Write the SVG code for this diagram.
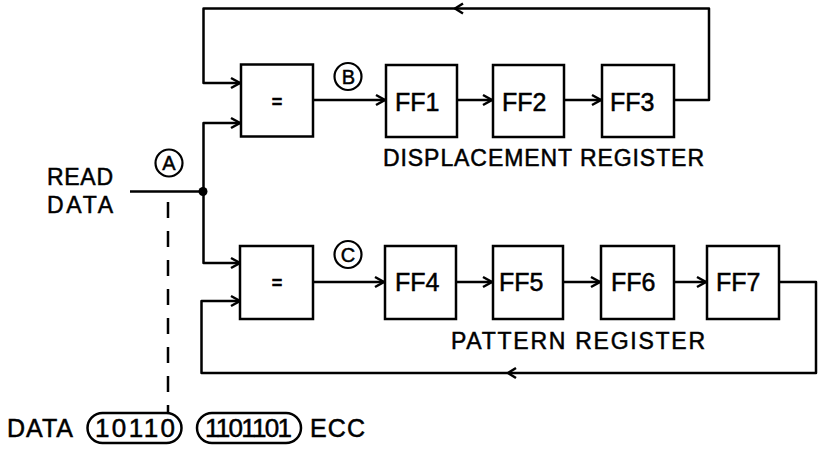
<svg xmlns="http://www.w3.org/2000/svg" width="822" height="450" viewBox="0 0 822 450">
<style>
.box{fill:#fff;stroke:#000;stroke-width:2.5}
.ln{fill:none;stroke:#000;stroke-width:2.5;stroke-linejoin:round}
.t{font-family:"Liberation Sans",Arial,sans-serif;fill:#000;stroke:#000;stroke-width:0.5}
.ff{font-size:25px}
.lbl{font-size:23px}
.big{font-size:25px}
.dig{font-size:26px}
.circ{fill:none;stroke:#000;stroke-width:2.2}
.cl{font-size:20px;text-anchor:middle}
.eq{font-size:18px;font-weight:bold;text-anchor:middle}
</style>
<defs>
<marker id="arr" markerUnits="userSpaceOnUse" markerWidth="14" markerHeight="14" viewBox="-11 -7 14 14" refX="0" refY="0" orient="auto">
<path d="M-9,-5 L0,0 L-9,5" fill="none" stroke="#000" stroke-width="2.5" stroke-linejoin="miter"/>
</marker>
</defs>
<rect width="822" height="450" fill="#fff"/>
<g id="connectors">
<path class="ln" d="M130,191.5 H203.5"/>
<circle cx="203" cy="191.5" r="4.5" fill="#000"/>
<path class="ln" d="M203.5,191.5 V123 H240" marker-end="url(#arr)"/>
<path class="ln" d="M203.5,191.5 V263 H240" marker-end="url(#arr)"/>
<path class="ln" d="M674,100 H709 V8.5 H203.5 V83 H240" marker-end="url(#arr)"/>
<path class="ln" d="M463,3.5 L455,8.5 L463,13.5"/>
<path class="ln" d="M779,282 H816 V373 H201.5 V301 H240" marker-end="url(#arr)"/>
<path class="ln" d="M516,368 L508,373 L516,378"/>
<path class="ln" d="M313,100 H385" marker-end="url(#arr)"/>
<path class="ln" d="M457,100 H492" marker-end="url(#arr)"/>
<path class="ln" d="M564,100 H601" marker-end="url(#arr)"/>
<path class="ln" d="M313,282 H384" marker-end="url(#arr)"/>
<path class="ln" d="M456,282 H492" marker-end="url(#arr)"/>
<path class="ln" d="M563,282 H600" marker-end="url(#arr)"/>
<path class="ln" d="M674,282 H706" marker-end="url(#arr)"/>
<path d="M168,202 V413" fill="none" stroke="#000" stroke-width="2.5" stroke-dasharray="16 13"/>
</g>
<g id="cmpTop"><rect class="box" x="241" y="64.5" width="72" height="72"/><text class="t eq" x="277" y="107.5">=</text></g>
<g id="cmpBot"><rect class="box" x="240" y="246" width="73" height="73"/><text class="t eq" x="277" y="288.5">=</text></g>
<g id="FF1"><rect class="box" x="386" y="65" width="71" height="72"/><text class="t ff" x="395" y="111">FF1</text></g>
<g id="FF2"><rect class="box" x="493" y="65" width="71" height="72"/><text class="t ff" x="502" y="111">FF2</text></g>
<g id="FF3"><rect class="box" x="602" y="65" width="72" height="72"/><text class="t ff" x="610" y="111">FF3</text></g>
<g id="FF4"><rect class="box" x="385" y="246" width="71" height="73"/><text class="t ff" x="395" y="291">FF4</text></g>
<g id="FF5"><rect class="box" x="493" y="246" width="70" height="73"/><text class="t ff" x="499" y="291">FF5</text></g>
<g id="FF6"><rect class="box" x="601" y="246" width="73" height="73"/><text class="t ff" x="611" y="291">FF6</text></g>
<g id="FF7"><rect class="box" x="707" y="246" width="72" height="73"/><text class="t ff" x="716" y="291">FF7</text></g>
<g id="labelA"><circle class="circ" cx="169" cy="163" r="13.5"/><text class="t cl" x="169" y="170">A</text></g>
<g id="labelB"><circle class="circ" cx="348" cy="76.5" r="13.5"/><text class="t cl" x="348.5" y="83.5">B</text></g>
<g id="labelC"><circle class="circ" cx="348" cy="254.5" r="13.5"/><text class="t cl" x="348" y="261.5">C</text></g>
<g id="readData">
<text class="t lbl" x="47" y="185" textLength="66" lengthAdjust="spacing">READ</text>
<text class="t lbl" x="47" y="213" textLength="66" lengthAdjust="spacing">DATA</text>
</g>
<g id="dispReg"><text class="t lbl" x="383" y="165.5" textLength="321" lengthAdjust="spacing">DISPLACEMENT REGISTER</text></g>
<g id="patReg"><text class="t lbl" x="451" y="348.5" textLength="254" lengthAdjust="spacing">PATTERN REGISTER</text></g>
<g id="dataWord">
<text class="t big" x="7" y="437" textLength="66" lengthAdjust="spacing">DATA</text>
<rect x="87.5" y="413" width="94" height="30" rx="15" fill="none" stroke="#000" stroke-width="2.5"/>
<text class="t dig" x="95" y="437" textLength="80" lengthAdjust="spacing">10110</text>
</g>
<g id="eccWord">
<rect x="197" y="413" width="104" height="30" rx="15" fill="none" stroke="#000" stroke-width="2.5"/>
<text class="t dig" x="205" y="437" textLength="87" lengthAdjust="spacing">1101101</text>
<text class="t big" x="310" y="437" textLength="55" lengthAdjust="spacing">ECC</text>
</g>
</svg>
